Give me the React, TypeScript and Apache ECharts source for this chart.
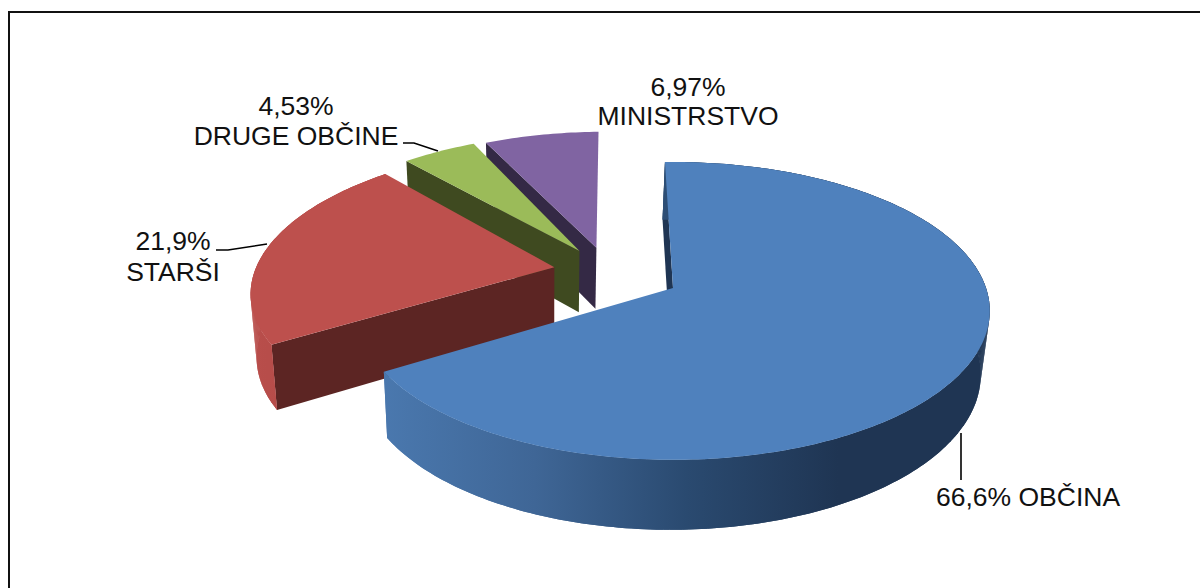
import React, { useEffect, useRef } from "react";
import * as echarts from "echarts";

const sliceNames = ["OBČINA", "STARŠI", "DRUGE OBČINE", "MINISTRSTVO"];
const sliceValues = [66.6, 21.9, 4.53, 6.97];
const sliceLabels = ["66,6%", "21,9%", "4,53%", "6,97%"];
const topColors = ["#4f81bd", "#bd504d", "#9bbb59", "#8064a2"];
const faceColors = ["#1f3553", "#5c2523", "#3f4a20", "#342945"];
const wallStops = [
  ["#4a78ae", "#3f6696", "#2a4a70", "#1f3553", "#1f3553"],
  ["#b94e4b", "#b54c49", "#b54c49", "#b54c49", "#b54c49"],
];
const drawOrder = [3, 2, 1, 0];
// small per-slice placement corrections in the pie plane
const nudgeX = [0, 0.013, -0.01, -0.03];
const nudgeY = [0, 0.04, 0.02, 0];
const apexNudgeX = [0, -0.026, -0.01, 0];
const apexNudgeY = [0, -0.014, -0.014, 0];

// projection of the pie plane into the picture
const START_DEG = -1.7;
const EXPLODE = 0.2;
const X0 = 673;
const Y0 = 288;
const BX = 313;
const AY = 145.4;
const P = 0.154;
const total = sliceValues.reduce((a, b) => a + b, 0);

const rad = (d: number) => (d * Math.PI) / 180;
const angleOf = (i: number) => {
  let s = START_DEG;
  for (let k = 0; k < i; k++) s += (sliceValues[k] / total) * 360;
  return [s, s + (sliceValues[i] / total) * 360];
};
const dirOf = (i: number) => {
  const [a, b] = angleOf(i);
  const m = rad((a + b) / 2);
  return [Math.sin(m), Math.cos(m)];
};
const project = (u: number, v: number) => {
  const w = 1 + P * v;
  return [X0 + (BX * u) / w, Y0 - (AY * v) / w];
};
const lower = (p: number[]) => [p[0] * 0.9797 + 11.1, p[1] * 1.042 + 50.6];

function renderItem(_params: any, api: any) {
  const i = api.value(0) as number;
  const [a, b] = angleOf(i);
  const d0 = dirOf(0);
  const d = dirOf(i);
  const ox = EXPLODE * (d[0] - d0[0]) + nudgeX[i];
  const oy = EXPLODE * (d[1] - d0[1]) + nudgeY[i];
  const apex = project(ox + apexNudgeX[i], oy + apexNudgeY[i]);
  const arc: number[][] = [];
  const steps = Math.max(8, Math.round(b - a));
  for (let s = 0; s <= steps; s++) {
    const t = rad(a + ((b - a) * s) / steps);
    arc.push(project(ox + Math.sin(t), oy + Math.cos(t)));
  }
  const first = arc[0];
  const poly = (points: number[][], fill: any) => ({
    type: "polygon",
    silent: true,
    shape: { points },
    style: { fill, stroke: "none" },
  });
  const children: any[] = [poly([apex, first, lower(first), lower(apex)], faceColors[i])];
  if (wallStops[i]) {
    const xs = [...arc, ...arc.map(lower)].map((p) => p[0]);
    const stops = wallStops[i].map((c, k, all) => ({ offset: k / (all.length - 1), color: c }));
    const fill = new echarts.graphic.LinearGradient(
      Math.min(...xs), 0, Math.max(...xs), 0, stops, true
    );
    children.push(poly([...arc, ...arc.map(lower).reverse()], fill));
    for (let s = 0; s < arc.length - 1; s++) {
      children.push(poly([arc[s], arc[s + 1], lower(arc[s + 1]), lower(arc[s])], fill));
    }
  }
  children.push(poly([apex, ...arc], topColors[i]));
  return { type: "group", children };
}

const FONT = "Liberation Sans, Arial, sans-serif";
const label = (x: number, y: number, text: string, align: string = "center") => ({
  type: "text",
  x,
  y,
  silent: true,
  style: { text, fill: "#111111", font: `26.5px ${FONT}`, textAlign: align, textVerticalAlign: "middle" },
});
const leader = (points: number[][]) => ({
  type: "polyline",
  silent: true,
  shape: { points },
  style: { stroke: "#000000", lineWidth: 1.6, fill: "none" },
});
const rule = (x1: number, y1: number, x2: number, y2: number, w: number) => ({
  type: "line",
  silent: true,
  shape: { x1, y1, x2, y2 },
  style: { stroke: "#111111", lineWidth: w },
});

export default function App() {
  const ref = useRef<HTMLDivElement>(null);
  useEffect(() => {
    document.body.style.margin = "0";
    const chart = echarts.init(ref.current!, null, { renderer: "svg" });
    chart.setOption({
      animation: false,
      backgroundColor: "#ffffff",
      graphic: [
        rule(8, 12, 1200, 12, 2),
        rule(9, 11, 9, 588, 2),
        leader([[403, 143], [414, 143], [438, 151]]),
        leader([[216, 250], [228, 250], [267, 244]]),
        leader([[961, 433], [961, 480]]),
        label(688, 87, sliceLabels[3]),
        label(688, 116, sliceNames[3]),
        label(296, 106, sliceLabels[2]),
        label(296, 136, sliceNames[2]),
        label(173, 241, sliceLabels[1]),
        label(173, 272, sliceNames[1]),
        label(1028, 497, `${sliceLabels[0]} ${sliceNames[0]}`),
      ],
      series: [
        {
          type: "custom",
          coordinateSystem: "none",
          silent: true,
          renderItem,
          data: drawOrder.map((i) => [i, sliceValues[i]]),
        },
      ],
    });
    return () => chart.dispose();
  }, []);
  return <div ref={ref} style={{ width: 1200, height: 588 }} />;
}
